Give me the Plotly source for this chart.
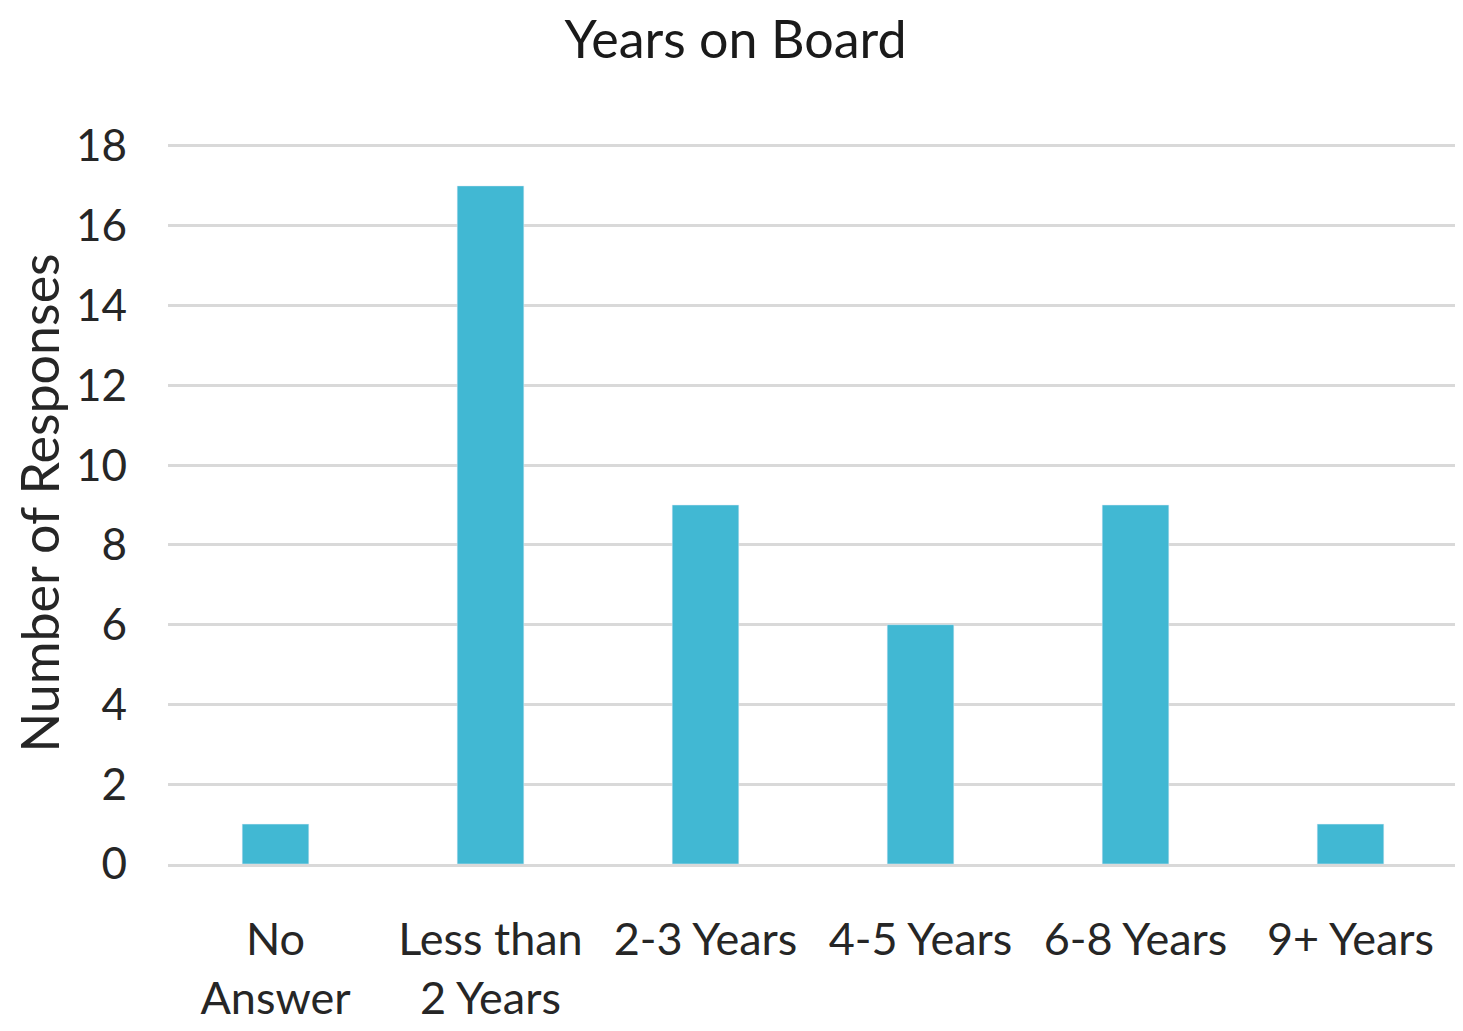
import plotly.graph_objects as go

categories = ["No<br>Answer", "Less than<br>2 Years", "2-3 Years", "4-5 Years", "6-8 Years", "9+ Years"]
values = [1, 17, 9, 6, 9, 1]
y_ticks = [0, 2, 4, 6, 8, 10, 12, 14, 16, 18]

fig = go.Figure(go.Bar(x=categories, y=values, marker_color="#41B8D3", width=0.31))

fig.update_layout(
    width=1455, height=1023,
    paper_bgcolor="white", plot_bgcolor="white",
    margin=dict(l=160, r=5, t=134, b=167),
    font=dict(family="Lato, sans-serif", color="#262626"),
    title=dict(text="Years on Board", x=0.5, xanchor="center", xref="container",
               y=1 - 32 / 1023, yanchor="middle", yref="container",
               font=dict(size=52, color="#1a1a1a")),
    showlegend=False,
)
fig.update_yaxes(range=[0, 18.1], tickvals=y_ticks, showgrid=True, gridcolor="#D9D9D9", gridwidth=3,
                 zeroline=False, showline=False, ticks="", tickfont=dict(size=44),
                 ticklabelstandoff=40,
                 title=dict(text="Number of Responses", font=dict(size=52), standoff=10))
fig.update_xaxes(showgrid=False, showline=True, linecolor="#D9D9D9", linewidth=3, ticks="",
                 tickfont=dict(size=45), ticklabelstandoff=34)

fig.write_html("out.html")
